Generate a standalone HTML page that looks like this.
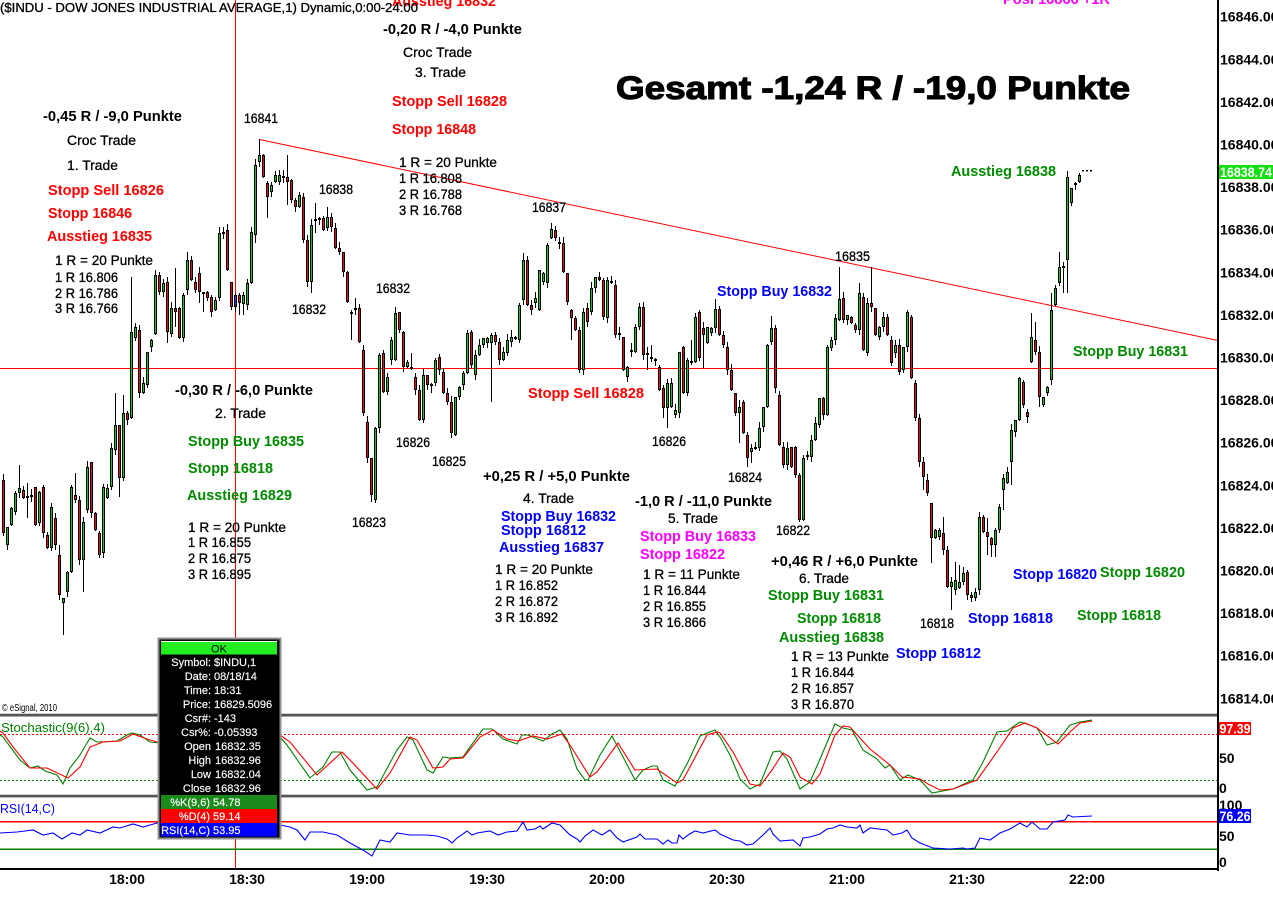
<!DOCTYPE html>
<html><head><meta charset="utf-8"><style>
html,body{margin:0;padding:0;background:#fff;}
body{width:1273px;height:899px;overflow:hidden;}
svg{display:block;font-family:"Liberation Sans",Arial,sans-serif;}
.b{font-weight:bold;font-size:14.5px;}
.n{font-size:13.5px;fill:#000;stroke:#000;stroke-width:0.3px;}
.ax{font-weight:bold;font-size:14px;fill:#000;}
.tt{font-size:11px;fill:#fff;stroke:#fff;stroke-width:0.15px;}
</style></head><body>
<svg id="s" width="1273" height="899" viewBox="0 0 1273 899" xmlns="http://www.w3.org/2000/svg">
<rect x="0" y="0" width="1273" height="899" fill="#fff"/>
<!-- lines -->
<rect x="0" y="368" width="1218" height="1" fill="#ff0000"/>
<rect x="235" y="0" width="1" height="870" fill="#ff0000"/>
<line x1="259.5" y1="139.5" x2="1218" y2="340.5" stroke="#ff0000" stroke-width="1"/>
<g id="candles"></g>
<rect x="1082" y="170" width="2" height="1.5" fill="#000"/>
<rect x="1086" y="170" width="2" height="1.5" fill="#000"/>
<rect x="1090" y="170" width="2" height="1.5" fill="#000"/>

<!-- top partially visible texts -->
<text x="392" y="6" class="b" fill="#ff0000" textLength="104" lengthAdjust="spacingAndGlyphs">Ausstieg 16832</text>
<text x="1003" y="4" class="b" fill="#ff00ff" textLength="107" lengthAdjust="spacingAndGlyphs">Posi 16866 +1R</text>
<text x="0" y="12" font-size="13" fill="#000" stroke="#000" stroke-width="0.3" textLength="418" lengthAdjust="spacingAndGlyphs">($INDU - DOW JONES INDUSTRIAL AVERAGE,1) Dynamic,0:00-24:00</text>

<!-- Gesamt -->
<text x="616" y="99" font-size="32" font-weight="bold" fill="#000" stroke="#000" stroke-width="1.1" textLength="514" lengthAdjust="spacingAndGlyphs">Gesamt -1,24 R / -19,0 Punkte</text>

<!-- Result headers -->
<g class="b" fill="#000">
<text x="383" y="34" textLength="139" lengthAdjust="spacingAndGlyphs">-0,20 R / -4,0 Punkte</text>
<text x="43" y="121" textLength="139" lengthAdjust="spacingAndGlyphs">-0,45 R / -9,0 Punkte</text>
<text x="175" y="395" textLength="138" lengthAdjust="spacingAndGlyphs">-0,30 R / -6,0 Punkte</text>
<text x="483" y="481" textLength="147" lengthAdjust="spacingAndGlyphs">+0,25 R / +5,0 Punkte</text>
<text x="635" y="506" textLength="137" lengthAdjust="spacingAndGlyphs">-1,0 R / -11,0 Punkte</text>
<text x="771" y="566" textLength="147" lengthAdjust="spacingAndGlyphs">+0,46 R / +6,0 Punkte</text>
</g>
<g class="n">
<text x="403" y="57" textLength="69" lengthAdjust="spacingAndGlyphs">Croc Trade</text>
<text x="415" y="77" textLength="51" lengthAdjust="spacingAndGlyphs">3. Trade</text>
<text x="67" y="145" textLength="69" lengthAdjust="spacingAndGlyphs">Croc Trade</text>
<text x="67" y="170" textLength="51" lengthAdjust="spacingAndGlyphs">1. Trade</text>
<text x="215" y="418" textLength="51" lengthAdjust="spacingAndGlyphs">2. Trade</text>
<text x="523" y="503" textLength="51" lengthAdjust="spacingAndGlyphs">4. Trade</text>
<text x="668" y="523" textLength="50" lengthAdjust="spacingAndGlyphs">5. Trade</text>
<text x="799" y="583" textLength="50" lengthAdjust="spacingAndGlyphs">6. Trade</text>

<text x="399" y="167" textLength="98" lengthAdjust="spacingAndGlyphs">1 R = 20 Punkte</text>
<text x="399" y="183" textLength="63" lengthAdjust="spacingAndGlyphs">1 R 16.808</text>
<text x="399" y="199" textLength="63" lengthAdjust="spacingAndGlyphs">2 R 16.788</text>
<text x="399" y="215" textLength="63" lengthAdjust="spacingAndGlyphs">3 R 16.768</text>

<text x="55" y="265" textLength="98" lengthAdjust="spacingAndGlyphs">1 R = 20 Punkte</text>
<text x="55" y="282" textLength="63" lengthAdjust="spacingAndGlyphs">1 R 16.806</text>
<text x="55" y="298" textLength="63" lengthAdjust="spacingAndGlyphs">2 R 16.786</text>
<text x="55" y="313" textLength="63" lengthAdjust="spacingAndGlyphs">3 R 16.766</text>

<text x="188" y="532" textLength="98" lengthAdjust="spacingAndGlyphs">1 R = 20 Punkte</text>
<text x="188" y="547" textLength="63" lengthAdjust="spacingAndGlyphs">1 R 16.855</text>
<text x="188" y="563" textLength="63" lengthAdjust="spacingAndGlyphs">2 R 16.875</text>
<text x="188" y="579" textLength="63" lengthAdjust="spacingAndGlyphs">3 R 16.895</text>

<text x="495" y="574" textLength="98" lengthAdjust="spacingAndGlyphs">1 R = 20 Punkte</text>
<text x="495" y="590" textLength="63" lengthAdjust="spacingAndGlyphs">1 R 16.852</text>
<text x="495" y="606" textLength="63" lengthAdjust="spacingAndGlyphs">2 R 16.872</text>
<text x="495" y="622" textLength="63" lengthAdjust="spacingAndGlyphs">3 R 16.892</text>

<text x="643" y="579" textLength="97" lengthAdjust="spacingAndGlyphs">1 R = 11 Punkte</text>
<text x="643" y="595" textLength="63" lengthAdjust="spacingAndGlyphs">1 R 16.844</text>
<text x="643" y="611" textLength="63" lengthAdjust="spacingAndGlyphs">2 R 16.855</text>
<text x="643" y="627" textLength="63" lengthAdjust="spacingAndGlyphs">3 R 16.866</text>

<text x="791" y="661" textLength="98" lengthAdjust="spacingAndGlyphs">1 R = 13 Punkte</text>
<text x="791" y="677" textLength="63" lengthAdjust="spacingAndGlyphs">1 R 16.844</text>
<text x="791" y="693" textLength="63" lengthAdjust="spacingAndGlyphs">2 R 16.857</text>
<text x="791" y="709" textLength="63" lengthAdjust="spacingAndGlyphs">3 R 16.870</text>

<text x="244" y="123" textLength="34" lengthAdjust="spacingAndGlyphs">16841</text>
<text x="319" y="194" textLength="34" lengthAdjust="spacingAndGlyphs">16838</text>
<text x="292" y="314" textLength="34" lengthAdjust="spacingAndGlyphs">16832</text>
<text x="376" y="293" textLength="34" lengthAdjust="spacingAndGlyphs">16832</text>
<text x="532" y="212" textLength="34" lengthAdjust="spacingAndGlyphs">16837</text>
<text x="835" y="261" textLength="35" lengthAdjust="spacingAndGlyphs">16835</text>
<text x="396" y="447" textLength="34" lengthAdjust="spacingAndGlyphs">16826</text>
<text x="432" y="466" textLength="34" lengthAdjust="spacingAndGlyphs">16825</text>
<text x="352" y="527" textLength="34" lengthAdjust="spacingAndGlyphs">16823</text>
<text x="652" y="446" textLength="34" lengthAdjust="spacingAndGlyphs">16826</text>
<text x="728" y="482" textLength="34" lengthAdjust="spacingAndGlyphs">16824</text>
<text x="776" y="535" textLength="34" lengthAdjust="spacingAndGlyphs">16822</text>
<text x="920" y="628" textLength="34" lengthAdjust="spacingAndGlyphs">16818</text>
</g>

<g class="b">
<text x="392" y="106" fill="#ff0000" textLength="115" lengthAdjust="spacingAndGlyphs">Stopp Sell 16828</text>
<text x="392" y="134" fill="#ff0000" textLength="84" lengthAdjust="spacingAndGlyphs">Stopp 16848</text>
<text x="48" y="195" fill="#ff0000" textLength="116" lengthAdjust="spacingAndGlyphs">Stopp Sell 16826</text>
<text x="48" y="218" fill="#ff0000" textLength="84" lengthAdjust="spacingAndGlyphs">Stopp 16846</text>
<text x="47" y="241" fill="#ff0000" textLength="105" lengthAdjust="spacingAndGlyphs">Ausstieg 16835</text>
<text x="528" y="398" fill="#ff0000" textLength="116" lengthAdjust="spacingAndGlyphs">Stopp Sell 16828</text>

<text x="188" y="446" fill="#008a00" textLength="116" lengthAdjust="spacingAndGlyphs">Stopp Buy 16835</text>
<text x="188" y="473" fill="#008a00" textLength="85" lengthAdjust="spacingAndGlyphs">Stopp 16818</text>
<text x="187" y="500" fill="#008a00" textLength="105" lengthAdjust="spacingAndGlyphs">Ausstieg 16829</text>

<text x="717" y="296" fill="#0000ff" textLength="115" lengthAdjust="spacingAndGlyphs">Stopp Buy 16832</text>
<text x="501" y="521" fill="#0000ff" textLength="115" lengthAdjust="spacingAndGlyphs">Stopp Buy 16832</text>
<text x="501" y="535" fill="#0000ff" textLength="85" lengthAdjust="spacingAndGlyphs">Stopp 16812</text>
<text x="499" y="552" fill="#0000ff" textLength="105" lengthAdjust="spacingAndGlyphs">Ausstieg 16837</text>

<text x="640" y="541" fill="#ff00ff" textLength="116" lengthAdjust="spacingAndGlyphs">Stopp Buy 16833</text>
<text x="640" y="559" fill="#ff00ff" textLength="85" lengthAdjust="spacingAndGlyphs">Stopp 16822</text>

<text x="768" y="600" fill="#008a00" textLength="116" lengthAdjust="spacingAndGlyphs">Stopp Buy 16831</text>
<text x="797" y="623" fill="#008a00" textLength="84" lengthAdjust="spacingAndGlyphs">Stopp 16818</text>
<text x="779" y="642" fill="#008a00" textLength="105" lengthAdjust="spacingAndGlyphs">Ausstieg 16838</text>

<text x="951" y="176" fill="#008a00" textLength="105" lengthAdjust="spacingAndGlyphs">Ausstieg 16838</text>
<text x="1073" y="356" fill="#008a00" textLength="115" lengthAdjust="spacingAndGlyphs">Stopp Buy 16831</text>
<text x="1013" y="579" fill="#0000ff" textLength="84" lengthAdjust="spacingAndGlyphs">Stopp 16820</text>
<text x="1100" y="577" fill="#008a00" textLength="85" lengthAdjust="spacingAndGlyphs">Stopp 16820</text>
<text x="968" y="623" fill="#0000ff" textLength="85" lengthAdjust="spacingAndGlyphs">Stopp 16818</text>
<text x="1077" y="620" fill="#008a00" textLength="84" lengthAdjust="spacingAndGlyphs">Stopp 16818</text>
<text x="896" y="658" fill="#0000ff" textLength="85" lengthAdjust="spacingAndGlyphs">Stopp 16812</text>
</g>

<text x="2" y="711" font-size="10" fill="#000" textLength="55" lengthAdjust="spacingAndGlyphs">© eSignal, 2010</text>

<!-- panel separators -->
<rect x="0" y="713" width="1218" height="1" fill="#d0d0d0"/>
<rect x="0" y="714" width="1218" height="2" fill="#555"/>
<rect x="0" y="716" width="1218" height="1" fill="#a8a8a8"/>
<rect x="0" y="794" width="1218" height="1" fill="#d0d0d0"/>
<rect x="0" y="795" width="1218" height="2" fill="#555"/>
<rect x="0" y="797" width="1218" height="1" fill="#b8b8b8"/>

<!-- stochastic -->
<line x1="0" y1="734.5" x2="1218" y2="734.5" stroke="#ff0000" stroke-width="1" stroke-dasharray="2,2"/>
<line x1="0" y1="780.5" x2="1218" y2="780.5" stroke="#008000" stroke-width="1" stroke-dasharray="2,2"/>
<polyline fill="none" stroke="#008000" stroke-width="1.1" points="0,735 3,737 20,760 30,768 38,766 45,771 57,775 63,784 70,768 80,755 90,738 97,742 100,742 117,741 127,735 132,733 140,735 150,742 160,743 220,740 280,737 287,745 310,778 323,767 332,752 340,752 350,770 367,790 377,787 397,750 407,737 413,740 427,770 433,773 443,757 450,758 463,757 470,747 483,729 492,729 503,739 517,744 522,735 528,735 543,741 552,734 560,730 567,739 577,769 585,780 588,780 600,755 612,736 622,755 635,780 643,770 652,766 657,766 663,780 675,786 688,762 700,736 707,733 715,730 720,737 730,755 740,779 750,789 760,784 773,752 780,751 787,759 800,789 810,782 820,759 835,724 843,728 852,730 863,750 877,759 885,768 890,765 900,780 908,775 920,780 932,793 953,789 973,780 983,762 997,732 1007,731 1020,722 1030,725 1037,728 1047,745 1057,742 1070,725 1080,722 1092,720"/>
<polyline fill="none" stroke="#ff0000" stroke-width="1.1" points="0,731 3,733 13,747 30,768 47,768 68,778 80,767 90,747 103,742 120,741 133,734 147,739 157,742 220,738 280,735 290,742 317,775 342,752 350,760 377,789 390,773 410,737 417,740 433,768 443,767 450,759 463,758 480,737 493,730 507,739 518,741 533,736 547,739 562,734 570,745 590,777 597,772 618,743 635,770 657,769 677,783 683,780 707,735 717,732 720,733 733,752 750,784 760,786 772,770 783,753 790,757 800,777 812,784 820,774 835,735 843,726 850,727 870,749 890,765 902,777 920,779 928,784 940,790 953,789 977,780 997,752 1013,728 1025,723 1037,728 1058,744 1070,732 1080,723 1092,721"/>
<text x="1" y="732" font-size="13" fill="#008000" textLength="104" lengthAdjust="spacingAndGlyphs">Stochastic(9(6),4)</text>

<!-- RSI -->
<rect x="0" y="821" width="1218" height="1.5" fill="#ff0000"/>
<rect x="0" y="848.5" width="1218" height="1.5" fill="#008000"/>
<polyline fill="none" stroke="#0000ff" stroke-width="1.1" points="0,833 17,832 33,830 43,835 53,833 62,839 72,833 80,835 87,830 100,833 113,827 120,828 133,824 143,827 157,823 220,826 280,825 290,827 297,830 305,840 310,832 323,832 337,835 350,843 363,850 372,856 380,840 390,842 397,833 410,835 427,835 437,836 447,839 452,843 457,838 467,831 472,835 477,833 490,831 498,835 507,832 517,831 523,822 527,830 535,829 540,826 543,829 552,823 560,825 570,835 577,839 580,842 585,836 593,830 602,835 610,830 617,838 623,842 637,837 640,834 645,839 657,839 663,844 668,840 672,843 677,843 679,835 683,839 688,835 695,831 703,833 715,830 720,834 733,840 740,841 747,845 753,844 763,835 770,828 773,834 780,841 793,840 800,846 803,838 810,837 820,834 827,829 833,828 840,825 847,827 857,828 860,825 863,833 870,828 887,830 893,835 902,833 907,830 912,838 920,843 933,848 950,849 963,848 967,849 975,848 980,838 990,840 1000,833 1010,829 1020,823 1027,827 1032,822 1040,829 1047,829 1053,822 1065,820 1068,815 1073,817 1092,816"/>
<text x="0" y="813" font-size="13" fill="#0000ff" textLength="55" lengthAdjust="spacingAndGlyphs">RSI(14,C)</text>

<!-- axes -->
<rect x="1217" y="0" width="2" height="871" fill="#000"/>
<rect x="0" y="868" width="1219" height="2" fill="#000"/>
<g class="ax">
<text x="1220" y="21.7">16846.00</text>
<text x="1220" y="64.3">16844.00</text>
<text x="1220" y="106.9">16842.00</text>
<text x="1220" y="149.5">16840.00</text>
<text x="1220" y="192.1">16838.00</text>
<text x="1220" y="234.7">16836.00</text>
<text x="1220" y="277.3">16834.00</text>
<text x="1220" y="319.9">16832.00</text>
<text x="1220" y="362.5">16830.00</text>
<text x="1220" y="405.1">16828.00</text>
<text x="1220" y="447.7">16826.00</text>
<text x="1220" y="490.3">16824.00</text>
<text x="1220" y="532.9">16822.00</text>
<text x="1220" y="575.5">16820.00</text>
<text x="1220" y="618.1">16818.00</text>
<text x="1220" y="660.7">16816.00</text>
<text x="1220" y="703.3">16814.00</text>
<text x="1219" y="763">50</text>
<text x="1219" y="793">0</text>
<text x="1219" y="810">100</text>
<text x="1219" y="841">50</text>
<text x="1219" y="867">0</text>
<text x="127" y="884" text-anchor="middle">18:00</text>
<text x="247" y="884" text-anchor="middle">18:30</text>
<text x="367" y="884" text-anchor="middle">19:00</text>
<text x="487" y="884" text-anchor="middle">19:30</text>
<text x="607" y="884" text-anchor="middle">20:00</text>
<text x="727" y="884" text-anchor="middle">20:30</text>
<text x="847" y="884" text-anchor="middle">21:00</text>
<text x="967" y="884" text-anchor="middle">21:30</text>
<text x="1087" y="884" text-anchor="middle">22:00</text>
</g>
<rect x="1219" y="797" width="40" height="1" fill="#fff"/>
<rect x="1219" y="165" width="54" height="14" fill="#10e010"/>
<text x="1220" y="177" font-size="14" font-weight="bold" fill="#fff" textLength="52" lengthAdjust="spacingAndGlyphs">16838.74</text>
<rect x="1219" y="722" width="32" height="13" fill="#ff0000"/>
<text x="1219.5" y="733.5" font-size="14" font-weight="bold" fill="#fff" textLength="31" lengthAdjust="spacingAndGlyphs">97.39</text>
<rect x="1219" y="809" width="32" height="14" fill="#0000ff"/>
<text x="1219.5" y="821" font-size="14" font-weight="bold" fill="#fff" textLength="31" lengthAdjust="spacingAndGlyphs">76.26</text>

<!-- tooltip -->
<rect x="158.5" y="638.5" width="122" height="200" fill="#000" stroke="#909090" stroke-width="2"/>
<rect x="161" y="642" width="116" height="12.5" fill="#22ee22"/>
<rect x="161" y="641" width="116" height="1" fill="#fff"/>
<text x="219" y="652.5" font-size="11" fill="#000" text-anchor="middle">OK</text>
<g class="tt" text-anchor="end">
<text x="211" y="666">Symbol:</text>
<text x="211" y="680">Date:</text>
<text x="211" y="694">Time:</text>
<text x="211" y="708">Price:</text>
<text x="211" y="722">Csr#:</text>
<text x="211" y="736">Csr%:</text>
<text x="211" y="750">Open</text>
<text x="211" y="764">High</text>
<text x="211" y="778">Low</text>
<text x="211" y="792">Close</text>
</g>
<g class="tt">
<text x="214" y="666">$INDU,1</text>
<text x="214" y="680">08/18/14</text>
<text x="214" y="694">18:31</text>
<text x="214" y="708">16829.5096</text>
<text x="214" y="722">-143</text>
<text x="214" y="736">-0.05393</text>
<text x="215" y="750">16832.35</text>
<text x="215" y="764">16832.96</text>
<text x="215" y="778">16832.04</text>
<text x="215" y="792">16832.96</text>
</g>
<rect x="161" y="795" width="116" height="14" fill="#1a8a1a"/>
<rect x="161" y="809" width="116" height="14" fill="#ff0000"/>
<rect x="161" y="823" width="116" height="13.5" fill="#0000ff"/>
<g class="tt" text-anchor="end">
<text x="210" y="806">%K(9,6)</text>
<text x="210" y="820">%D(4)</text>
<text x="210" y="834">RSI(14,C)</text>
</g>
<g class="tt">
<text x="213" y="806">54.78</text>
<text x="213" y="820">59.14</text>
<text x="213" y="834">53.95</text>
</g>
</svg>
<script>
(function(){
var D=[
[3,480,533,'r'],[7,527,545,'g'],[11,508,525,'g'],[15,493,512,'g'],[19,488,493,'g',465],[23,490,498,'r'],[27,496,498,'g',483,518],[31,495,497,'r'],[35,487,525,'r'],[39,492,523,'g'],[43,487,533,'r'],[47,535,548,'r'],[51,507,548,'g'],[55,518,545,'r'],[59,555,595,'r',545,600],[63,598,603,'g',0,635],[67,572,592,'g'],[71,487,572,'g'],[75,495,500,'r',473],[79,500,560,'r'],[83,522,560,'g',0,592],[87,467,510,'g'],[91,462,513,'r'],[95,513,530,'r'],[99,533,555,'r'],[103,487,553,'g'],[107,488,498,'g'],[111,448,487,'g'],[115,425,450,'g',393],[119,425,478,'r',0,497],[123,413,478,'g',395],[127,413,420,'r'],[131,332,418,'g',277],[135,327,338,'g'],[139,330,393,'r'],[143,383,393,'g'],[147,352,385,'g'],[151,340,347,'g'],[155,275,334,'g',270],[159,275,292,'r'],[163,283,292,'g'],[167,282,332,'r',0,343],[171,308,334,'g'],[175,308,312,'r',268,327],[179,308,338,'r'],[183,295,338,'g',0,342],[187,260,290,'g',252],[191,260,280,'r'],[195,282,290,'r'],[199,273,292,'r',0,303],[203,292,294,'r',0,312],[207,292,298,'r'],[211,297,312,'r',0,317],[215,300,310,'g'],[219,233,298,'g',227],[223,232,234,'g',227],[227,230,270,'r'],[231,282,307,'r'],[235,295,307,'b'],[239,295,303,'r',0,315],[243,295,304,'g',0,315],[247,283,305,'g'],[251,232,283,'g'],[255,165,235,'g',0,243],[259,155,162,'g',139],[263,155,177,'r'],[267,183,197,'r',0,218],[271,185,192,'g'],[275,175,182,'g'],[279,175,182,'g'],[283,176,178,'g'],[287,177,182,'r',155,205],[291,180,200,'r'],[295,200,207,'r'],[299,195,207,'g'],[303,197,240,'r'],[307,240,282,'r'],[311,225,282,'g',0,293],[315,219,221,'g',203,233],[319,218,220,'g'],[323,218,230,'r'],[327,217,228,'g',207],[331,217,227,'r'],[335,228,248,'r'],[339,248,252,'r'],[343,252,272,'r'],[347,272,302,'r'],[351,312,314,'r',310,340],[355,308,310,'g',298],[359,308,342,'r'],[363,350,413,'r'],[367,422,458,'r'],[371,458,495,'r',0,502],[375,428,500,'g'],[379,355,428,'g'],[383,353,392,'r'],[387,377,392,'g'],[391,340,360,'g',337],[395,313,360,'g'],[399,312,330,'r'],[403,332,367,'r'],[407,362,367,'g'],[411,367,369,'r',353,370],[415,377,390,'r'],[419,390,420,'r'],[423,375,420,'g'],[427,375,385,'r'],[431,384,386,'g',0,393],[435,360,383,'g'],[439,357,370,'r'],[443,372,393,'r'],[447,393,402,'r'],[451,402,433,'r'],[455,397,435,'g'],[459,387,397,'g'],[463,373,385,'g'],[467,333,373,'g'],[471,332,365,'r',330],[475,355,375,'g'],[479,345,355,'g'],[483,338,345,'g'],[487,338,343,'g'],[491,335,343,'g',0,402],[495,335,342,'r'],[499,342,360,'r'],[503,352,360,'g'],[507,340,353,'g'],[511,337,342,'g',330],[515,337,339,'g'],[519,305,340,'g'],[523,260,300,'g',253],[527,260,305,'r'],[531,305,310,'r',0,315],[535,298,303,'g'],[539,270,310,'g'],[543,273,282,'g'],[547,245,283,'g'],[551,229,238,'g',223],[555,230,238,'r'],[559,242,244,'r'],[563,243,272,'r'],[567,273,302,'r'],[571,310,318,'r',0,340],[575,318,330,'r'],[579,330,370,'r'],[583,312,370,'g'],[587,308,322,'r',0,327],[591,288,312,'g'],[595,277,288,'g'],[599,277,280,'r',272],[603,280,317,'r'],[607,280,318,'g'],[611,281,283,'g',276],[615,285,335,'r'],[619,333,335,'r'],[623,337,370,'r'],[627,367,377,'g',0,382],[631,350,352,'g',343,357],[635,327,352,'g'],[639,307,327,'g'],[643,307,355,'r'],[647,353,355,'r',0,370],[651,357,359,'g',345],[655,359,361,'r'],[659,367,390,'r'],[663,388,408,'r',0,418],[667,383,408,'g',0,428],[671,383,407,'g'],[675,410,415,'g'],[679,352,413,'g'],[683,347,393,'r'],[687,360,393,'g'],[691,361,363,'g',340,365],[695,317,362,'g'],[699,312,358,'r',310],[703,328,335,'r',0,368],[707,327,343,'g'],[711,328,333,'g'],[715,309,328,'g',299],[719,309,335,'r'],[723,335,345,'r'],[727,347,370,'r'],[731,370,390,'r'],[735,393,413,'r'],[739,407,413,'g',400,443],[743,402,433,'r'],[747,435,458,'r',0,467],[751,448,452,'g',0,463],[755,447,449,'g'],[759,428,448,'g'],[763,407,427,'g'],[767,345,407,'g'],[771,328,342,'g',316],[775,328,388,'r'],[779,395,445,'r'],[783,447,465,'r'],[787,448,465,'g'],[791,447,467,'r'],[795,447,475,'r'],[799,475,520,'r',0,522],[803,458,520,'g'],[807,455,457,'g'],[811,440,457,'g'],[815,423,440,'g'],[819,398,425,'g'],[823,398,415,'r'],[827,347,415,'g'],[831,340,348,'g'],[835,318,340,'g'],[839,299,320,'g',267],[843,298,320,'r'],[847,315,320,'g'],[851,317,323,'r'],[855,325,330,'r'],[859,293,330,'g',283],[863,297,350,'r'],[867,303,353,'g'],[871,303,307,'r',267],[875,308,335,'r'],[879,327,337,'g'],[883,317,327,'g',312],[887,317,335,'r'],[891,340,363,'r'],[895,345,353,'g'],[899,345,372,'r',0,375],[903,347,370,'g'],[907,312,347,'g',310],[911,317,378,'r'],[915,383,418,'r'],[919,418,462,'r'],[923,462,477,'r',0,490],[927,480,493,'r'],[931,503,538,'r',0,563],[935,530,538,'g'],[939,530,537,'g'],[943,533,550,'r',517],[947,550,587,'r'],[951,582,587,'g',0,610],[955,580,590,'g',562],[959,582,588,'g',565],[963,573,582,'g',567],[967,572,595,'r'],[971,595,598,'r',0,602],[975,592,598,'g'],[979,517,590,'g'],[983,517,532,'r',515],[987,532,537,'r',518,555],[991,538,545,'r',0,557],[995,530,545,'g',0,557],[999,507,530,'g'],[1003,478,490,'g',0,510],[1007,472,483,'g'],[1011,430,462,'g',0,485],[1015,420,432,'g'],[1019,378,420,'g'],[1023,382,405,'r'],[1027,412,417,'r',0,423],[1031,337,362,'g',313],[1035,340,352,'r',322],[1039,352,397,'r',0,407],[1043,397,405,'g',0,407],[1047,387,393,'g'],[1051,310,380,'g',293],[1055,288,305,'g'],[1059,267,283,'g',252],[1063,266,268,'g',262,293],[1067,177,260,'g',0,293],[1071,188,203,'g'],[1075,183,185,'g'],[1079,175,182,'g']
];
var col={g:'#1ec01e',r:'#e01010',b:'#2040ff'};
var s='';
for(var i=0;i<D.length;i++){
var e=D[i],x=e[0],t=e[1],b=e[2],c=e[3];
var d1=(x*37)%7,d2=(x*53)%6;
var hi=e[4]||(t-d1),lo=e[5]||(b+d2);
if(hi>t)hi=t;if(lo<b)lo=b;
if(lo-hi>0)s+='<rect x="'+x+'" y="'+hi+'" width="1" height="'+(lo-hi)+'" fill="#000"/>';
var h=b-t;
if(h<2){s+='<rect x="'+(x-1)+'" y="'+t+'" width="3" height="2" fill="#000"/>';}
else{
s+='<rect x="'+(x-1)+'" y="'+t+'" width="3" height="'+h+'" fill="#000"/>';
if(h>2)s+='<rect x="'+x+'" y="'+(t+1)+'" width="1" height="'+(h-2)+'" fill="'+col[c]+'"/>';
}
}
document.getElementById('candles').innerHTML=s;
})();
</script>
</body></html>
